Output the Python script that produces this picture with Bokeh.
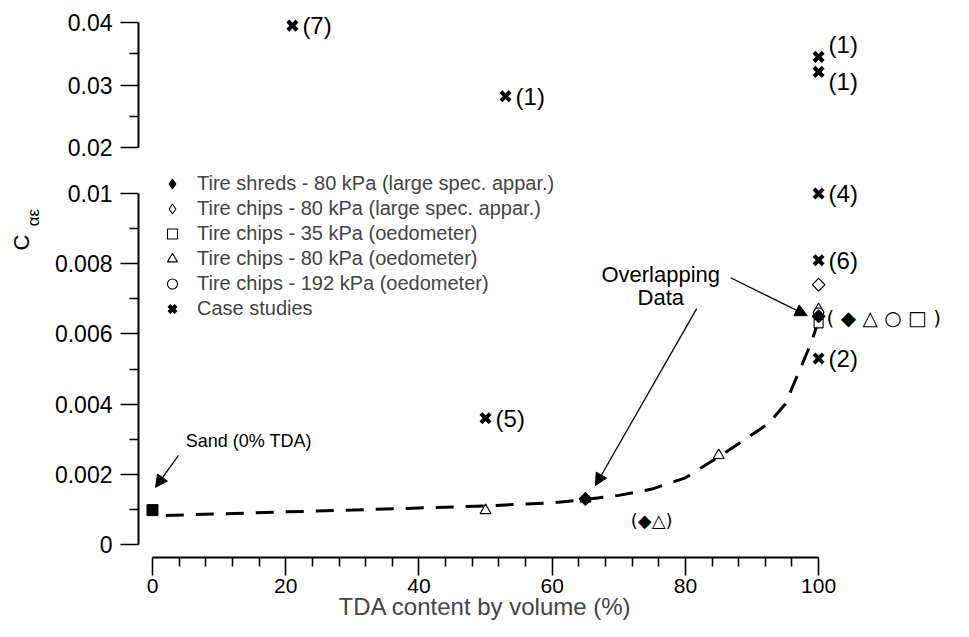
import math
from bokeh.plotting import figure
from bokeh.models import (ColumnDataSource, FixedTicker, Range1d, Legend, LegendItem,
                          Arrow, NormalHead, Title)
from bokeh.layouts import column, row
from bokeh.embed import file_html
from bokeh.resources import INLINE
from bokeh.core.properties import value

# ------------------------------------------------------------------ data
sand_x = [0]
sand_y = [0.00098]

shreds80_large_x = [65, 100]
shreds80_large_y = [0.0013, 0.0065]

chips80_large_x = [100]
chips80_large_y = [0.0074]

chips35_oed_x = [100]
chips35_oed_y = [0.0063]

chips80_oed_x = [50, 65, 85, 100]
chips80_oed_y = [0.00097, 0.0013, 0.00254, 0.0067]

chips192_oed_x = [100]
chips192_oed_y = [0.0066]

case_x = [21, 53, 100, 100, 100, 100, 100, 50]
case_y = [0.0395, 0.0282, 0.0345, 0.0321, 0.0100, 0.0081, 0.0053, 0.0036]
case_ref = ["(7)", "(1)", "(1)", "(1)", "(4)", "(6)", "(2)", "(5)"]

trend_x = [2, 10, 20, 30, 40, 50, 60, 65, 70, 75, 80, 85, 89, 92.5, 95, 97, 99, 100]
trend_y = [0.00083, 0.00087, 0.00093, 0.00098, 0.00104, 0.0011, 0.00119, 0.00128,
           0.0014, 0.00158, 0.0019, 0.0025, 0.003, 0.00345, 0.004, 0.0049, 0.0058, 0.0064]

x_ticks = [0, 20, 40, 60, 80, 100]
x_minor = [4, 8, 12, 16, 24, 28, 32, 36, 44, 48, 52, 56, 64, 68, 72, 76, 84, 88, 92, 96]
y_low_ticks = [0, 0.002, 0.004, 0.006, 0.008, 0.01]
y_low_labels = ["0", "0.002", "0.004", "0.006", "0.008", "0.01"]
y_low_minor = [0.001, 0.003, 0.005, 0.007, 0.009]
y_up_ticks = [0.02, 0.03, 0.04]
y_up_labels = ["0.02", "0.03", "0.04"]
y_up_minor = [0.025, 0.035]

legend_labels = [
    "Tire shreds - 80 kPa (large spec. appar.)",
    "Tire chips - 80 kPa (large spec. appar.)",
    "Tire chips - 35 kPa (oedometer)",
    "Tire chips - 80 kPa (oedometer)",
    "Tire chips - 192 kPa (oedometer)",
    "Case studies",
]
x_title = "TDA content by volume (%)"
y_title_main = "C"
y_title_sub = "\u03b1\u03b5"

# ------------------------------------------------------------------ layout / style
FONT = "Liberation Sans"
case_label_dy = [0, 0, -12, 10, 0, 0, 0, 0]
STRIP = 50          # width of the y-title strip
LEFT = 138 - STRIP  # left border of the plots
NAN = float("nan")

x_range = Range1d(-2.10, 121.3)


def style_axis(ax, ticks, minor, labels=None, bounds=None, fs="22px"):
    ax.ticker = FixedTicker(ticks=ticks, minor_ticks=minor)
    if labels is not None:
        ax.major_label_overrides = {t: l for t, l in zip(ticks, labels)}
    if bounds is not None:
        ax.bounds = bounds
    ax.axis_line_width = 2
    ax.axis_line_color = "black"
    ax.major_tick_in = 0
    ax.major_tick_out = 18
    ax.minor_tick_in = 0
    ax.minor_tick_out = 9
    ax.major_tick_line_width = 1.6
    ax.minor_tick_line_width = 1.6
    ax.major_label_text_font = FONT
    ax.major_label_text_font_size = fs
    ax.major_label_text_color = "black"


# title strip on the far left (C with subscript)
yt = figure(width=STRIP, height=637, x_range=Range1d(0, STRIP), y_range=Range1d(0, 637),
            output_backend="svg", toolbar_location=None,
            x_axis_location=None, y_axis_location=None,
            min_border=0, min_border_left=0, min_border_right=0,
            min_border_top=0, min_border_bottom=0)
yt.outline_line_color = None
yt.grid.visible = False
yt.text([21], [395], text=[y_title_main], angle=math.pi / 2, text_align="center",
        text_baseline="middle", text_font=value(FONT), text_font_size="22px", text_color="black")
yt.text([33], [420], text=[y_title_sub], angle=math.pi / 2, text_align="center",
        text_baseline="middle", text_font=value(FONT), text_font_size="17px", text_color="black")

# upper panel (0.02 - 0.04)
up = figure(width=969 - STRIP, height=168, x_range=x_range, y_range=Range1d(0.01664, 0.0416),
            output_backend="svg", toolbar_location=None, x_axis_location=None,
            min_border_left=LEFT, min_border_right=9, min_border_top=12, min_border_bottom=0)
up.outline_line_color = None
up.grid.visible = False
style_axis(up.yaxis[0], y_up_ticks, y_up_minor, y_up_labels, (0.02, 0.04), fs="23px")
up.yaxis[0].major_label_standoff = 8

# lower panel (0 - 0.01)
lo = figure(width=969 - STRIP, height=469, x_range=x_range, y_range=Range1d(-0.00037, 0.010712),
            output_backend="svg", toolbar_location=None,
            min_border_left=LEFT, min_border_right=9, min_border_top=0, min_border_bottom=80)
lo.outline_line_color = None
lo.grid.visible = False
style_axis(lo.yaxis[0], y_low_ticks, y_low_minor, y_low_labels, (0, 0.01), fs="23px")
lo.yaxis[0].major_label_standoff = 8
style_axis(lo.xaxis[0], x_ticks, x_minor, None, (0, 100), fs="21px")
lo.xaxis[0].major_label_standoff = 3
lo.add_layout(Title(text=x_title, align="left", offset=200, text_font=FONT,
                    text_font_size="24px", text_font_style="normal", standoff=-10), "below")

# trend line
lo.line(trend_x, trend_y, line_color="black", line_width=3, line_dash="18 12")

# sand
lo.scatter(sand_x, sand_y, marker="square", size=11, fill_color="black", line_color="black")

# series
r_sq = lo.scatter(chips35_oed_x, chips35_oed_y, marker="square", size=9,
                  fill_color="white", line_color="black", line_width=1.1)
r_tri = lo.scatter(chips80_oed_x, chips80_oed_y, marker="triangle", size=11,
                   fill_color="white", line_color="black", line_width=1.1)
r_circ = lo.scatter(chips192_oed_x, chips192_oed_y, marker="circle", size=10,
                    fill_color="white", line_color="black", line_width=1.1)
lo.scatter(chips80_large_x, chips80_large_y, marker="square", angle=math.pi / 4,
           size=9, fill_color="white", line_color="black", line_width=1.1)
lo.scatter(shreds80_large_x, shreds80_large_y, marker="square", angle=math.pi / 4,
           size=9, fill_color="black", line_color="black", line_width=1.1)

# legend swatches for the diamond series (the legend draws markers unrotated);
# a single NaN point draws nothing on the plot
r_odia = lo.scatter(x=[NAN], y=[NAN], marker="diamond", size=12,
                    fill_color="white", line_color="black", line_width=1.1)
r_fdia = lo.scatter(x=[NAN], y=[NAN], marker="diamond", size=12,
                    fill_color="black", line_color="black", line_width=1.1)


# case studies split over the two panels
def case_source(keep):
    idx = [i for i, y in enumerate(case_y) if keep(y)]
    return ColumnDataSource(dict(x=[case_x[i] for i in idx], y=[case_y[i] for i in idx],
                                 t=[case_ref[i] for i in idx], dy=[case_label_dy[i] for i in idx]))


src_up = case_source(lambda y: y > 0.015)
src_lo = case_source(lambda y: y <= 0.015)

r_case = None
for fig, src in ((up, src_up), (lo, src_lo)):
    r = fig.scatter("x", "y", source=src, marker="x", size=13, line_color="black", line_width=4)
    fig.text("x", "y", text="t", source=src, x_offset=10, y_offset="dy",
             text_font=value(FONT), text_font_size="24px", text_align="left",
             text_baseline="middle", text_color="black")
    r_case = r

# annotation texts
lo.text([5.0], [0.00296], text=["Sand (0% TDA)"], text_font=value(FONT), text_font_size="18px",
        text_align="left", text_baseline="middle", text_color="black")
lo.text([76.3, 76.3], [0.00769, 0.00704], text=["Overlapping", "Data"], text_font=value(FONT),
        text_font_size="22px", text_align="center", text_baseline="middle", text_color="black")
lo.text([71.8], [0.00068], text=["(\u25c6\u25b3)"],
        text_font=value("DejaVu Sans"), text_font_size="18px", text_align="left",
        text_baseline="middle", text_color="black")
lo.text([101.2], [0.00644], text=["( \u25c6 \u25b3 \u25cb \u25a1 )"],
        text_font=value("DejaVu Sans"), text_font_size="20px", text_align="left",
        text_baseline="middle", text_color="black")

for (xs, ys, xe, ye) in [(3.9, 0.00254, 0.45, 0.00163),
                         (86.8, 0.0076, 98.3, 0.00652),
                         (81.7, 0.00672, 66.5, 0.00168)]:
    lo.add_layout(Arrow(end=NormalHead(size=12, fill_color="black", line_color="black", line_width=1),
                        x_start=xs, y_start=ys, x_end=xe, y_end=ye,
                        line_color="black", line_width=1.3))

legend = Legend(items=[LegendItem(label=l, renderers=[r]) for l, r in
                       zip(legend_labels, [r_fdia, r_odia, r_sq, r_tri, r_circ, r_case])],
                location=(21, 236), padding=0, margin=0, spacing=0,
                glyph_width=26, glyph_height=25, label_height=25, label_standoff=12,
                label_text_font=FONT, label_text_font_size="20px",
                background_fill_alpha=0, border_line_color=None)
lo.add_layout(legend)

layout = row(yt, column(up, lo, spacing=0), spacing=0)
open("out.html", "w").write(file_html(layout, INLINE))
